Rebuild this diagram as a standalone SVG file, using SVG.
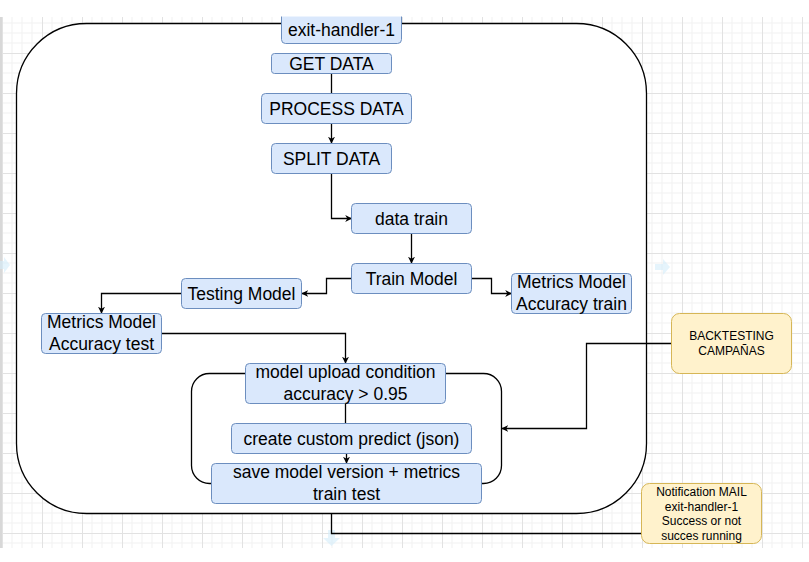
<svg xmlns="http://www.w3.org/2000/svg" width="809" height="562" viewBox="0 0 809 562">
<style>
.n{fill:#dae8fc;stroke:#6c8ebf;stroke-width:1}
.y{fill:#fff2cc;stroke:#d6b656;stroke-width:1}
.t{font-family:"Liberation Sans",Arial,sans-serif;font-size:17.5px;fill:#000;text-anchor:middle;dominant-baseline:central}
.s{font-family:"Liberation Sans",Arial,sans-serif;font-size:12px;fill:#000;text-anchor:middle;dominant-baseline:central}
.c{fill:none;stroke:#000;stroke-width:1.3}
.h{fill:#d4ecfa;opacity:0.6}
</style>
<defs>
<pattern id="g" patternUnits="userSpaceOnUse" x="2" y="13" width="40" height="40">
<path d="M10 0V40M20 0V40M30 0V40M0 10H40M0 20H40M0 30H40" stroke="#f1f1f1" stroke-width="1"/>
<path d="M0.5 0V40M0 0.5H40" stroke="#e2e2e2" stroke-width="1"/>
</pattern>
<marker id="a" viewBox="0 0 10 10" refX="9" refY="5" markerWidth="7" markerHeight="7" markerUnits="userSpaceOnUse" orient="auto">
<path d="M0 0L10 5L0 10L3 5Z" fill="#000"/>
</marker>
</defs>
<rect width="809" height="562" fill="#fff"/>
<rect x="0" y="17" width="809" height="531" fill="url(#g)"/>
<rect x="0" y="17" width="2" height="531" fill="#d8d8d8"/>
<g id="hover-arrows">
<path class="h" d="M0 261h4v-4l6 8-6 8v-4h-4z"/>
<path class="h" d="M655 264h8v-5l7 8-7 8v-5h-8z"/>
<path class="h" d="M328 530h7v8h5l-8.5 8-8.5-8h5z"/>
</g>
<g id="container">
<rect x="16.5" y="23.5" width="630" height="490" rx="70" ry="70" fill="#fff" stroke="#000" stroke-width="1.3"/>
</g>
<g id="loop">
<rect x="191.5" y="373.5" width="310" height="110" rx="18" ry="18" fill="none" stroke="#000" stroke-width="1.3"/>
</g>
<g id="connectors">
<path class="c" d="M331.5 73V93"/>
<path class="c" d="M331.5 123V143" marker-end="url(#a)"/>
<path class="c" d="M331.5 173V218.5H351.5" marker-end="url(#a)"/>
<path class="c" d="M411.5 233V263" marker-end="url(#a)"/>
<path class="c" d="M352 278.5H326.5V293.5H302" marker-end="url(#a)"/>
<path class="c" d="M182 293.5H101.5V313" marker-end="url(#a)"/>
<path class="c" d="M162 333.5H345.5V363" marker-end="url(#a)"/>
<path class="c" d="M471 278.5H491.5V293.5H511.5" marker-end="url(#a)"/>
<path class="c" d="M345.5 403V423"/>
<path class="c" d="M346.5 453V463" marker-end="url(#a)"/>
<path class="c" d="M672 343.5H586.5V428.5H502" marker-end="url(#a)"/>
<path class="c" d="M331.5 513.5V533.5H642"/>
</g>
<g id="exit-handler-1">
<rect class="n" x="281.5" y="8.5" width="120" height="35" rx="4"/>
<rect x="270" y="0" width="140" height="16.5" fill="#fff"/>
<text class="t" x="341.5" y="29.5">exit-handler-1</text>
</g>
<g id="get-data">
<rect class="n" x="271.5" y="53.5" width="120" height="20" rx="3"/>
<text class="t" x="331.5" y="63.5">GET DATA</text>
</g>
<g id="process-data">
<rect class="n" x="261.5" y="93.5" width="150" height="30" rx="4"/>
<text class="t" x="336.5" y="108.5">PROCESS DATA</text>
</g>
<g id="split-data">
<rect class="n" x="271.5" y="143.5" width="120" height="30" rx="4"/>
<text class="t" x="331.5" y="158.5">SPLIT DATA</text>
</g>
<g id="data-train">
<rect class="n" x="351.5" y="203.5" width="120" height="30" rx="4"/>
<text class="t" x="411.5" y="218.5">data train</text>
</g>
<g id="train-model">
<rect class="n" x="351.5" y="263.5" width="120" height="30" rx="4"/>
<text class="t" x="411.5" y="278.5">Train Model</text>
</g>
<g id="testing-model">
<rect class="n" x="181.5" y="278.5" width="120" height="30" rx="4"/>
<text class="t" x="241.5" y="293.5">Testing Model</text>
</g>
<g id="metrics-test">
<rect class="n" x="41.5" y="313.5" width="120" height="40" rx="4"/>
<text class="t" x="101.5" y="322">Metrics Model</text>
<text class="t" x="101.5" y="343.5">Accuracy test</text>
</g>
<g id="metrics-train">
<rect class="n" x="511.5" y="273.5" width="120" height="40" rx="4"/>
<text class="t" x="571.5" y="282">Metrics Model</text>
<text class="t" x="571.5" y="303.5">Accuracy train</text>
</g>
<g id="backtesting">
<rect class="y" x="671.5" y="313.5" width="120" height="60" rx="8"/>
<text class="s" x="731.5" y="336">BACKTESTING</text>
<text class="s" x="731.5" y="350.5">CAMPAÑAS</text>
</g>
<g id="model-upload">
<rect class="n" x="245.5" y="363.5" width="200" height="40" rx="4"/>
<text class="t" x="345.5" y="372">model upload condition</text>
<text class="t" x="345.5" y="393.5">accuracy &gt; 0.95</text>
</g>
<g id="create-predict">
<rect class="n" x="231.5" y="423.5" width="240" height="30" rx="4"/>
<text class="t" x="351.5" y="438.5">create custom predict (json)</text>
</g>
<g id="save-model">
<rect class="n" x="211.5" y="463.5" width="270" height="40" rx="4"/>
<text class="t" x="346.5" y="472">save model version + metrics</text>
<text class="t" x="346.5" y="493.5">train test</text>
</g>
<g id="notification">
<rect class="y" x="641.5" y="483.5" width="120" height="60" rx="8"/>
<text class="s" x="701.5" y="492">Notification MAIL</text>
<text class="s" x="701.5" y="506.5">exit-handler-1</text>
<text class="s" x="701.5" y="521">Success or not</text>
<text class="s" x="701.5" y="535.5">succes running</text>
</g>
</svg>
